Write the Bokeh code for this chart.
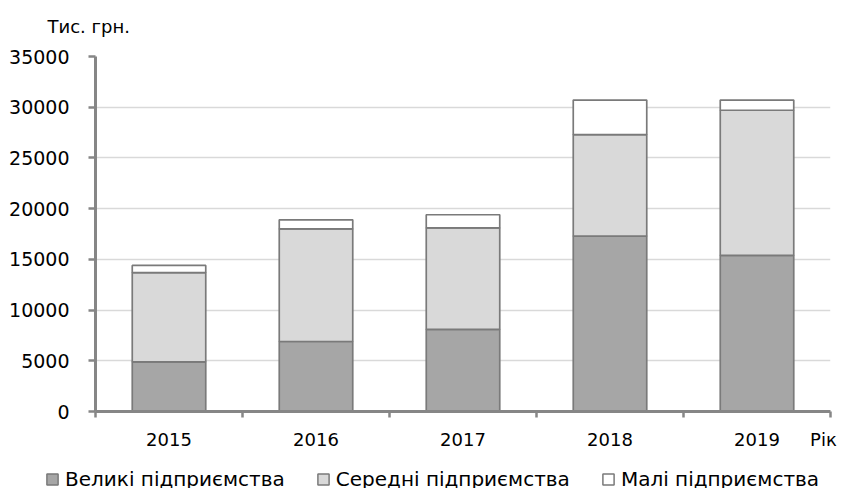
from bokeh.plotting import figure
from bokeh.layouts import column, row
from bokeh.models import ColumnDataSource, FixedTicker, Label, Legend, LegendItem, Range1d
from bokeh.embed import file_html
from bokeh.resources import INLINE

years = ["2015", "2016", "2017", "2018", "2019"]
large = [4900, 6900, 8100, 17300, 15400]
medium = [8800, 11100, 10000, 10000, 14300]
small = [700, 900, 1300, 3400, 1000]
series_keys = ["large", "medium", "small"]
series_names = ["Великі підприємства", "Середні підприємства", "Малі підприємства"]
series_colors = ["#a6a6a6", "#d9d9d9", "#ffffff"]
y_ticks = [0, 5000, 10000, 15000, 20000, 25000, 30000, 35000]
y_unit = "Тис. грн."
x_unit = "Рік"

FONT = "DejaVu Sans"
TXT = "#000000"
AX = "#868686"
EDGE = "#7a7a7a"
W = 845

xs = list(range(1, len(years) + 1))
unit_pos = len(years) + 0.452
source = ColumnDataSource(dict(x=xs, large=large, medium=medium, small=small))

# header strip with the unit text
ph = figure(width=W, height=40, output_backend="svg", toolbar_location=None, title=None,
            x_range=Range1d(0, W), y_range=Range1d(40, 0),
            min_border_left=0, min_border_right=0, min_border_top=0, min_border_bottom=0)
ph.axis.visible = False
ph.grid.visible = False
ph.outline_line_color = None
ph.add_layout(Label(x=47, y=26, text=y_unit, text_font=FONT, text_font_size="18px",
                    text_color=TXT, text_align="left", text_baseline="alphabetic"))

# main chart
p = figure(width=W, height=422, output_backend="svg", toolbar_location=None, title=None,
           x_range=Range1d(0.5, len(years) + 0.5), y_range=Range1d(0, 35000),
           min_border_left=95, min_border_right=15, min_border_top=16, min_border_bottom=51)
p.outline_line_color = None
p.background_fill_color = "white"

p.vbar_stack(series_keys, x="x", width=0.5, source=source,
             fill_color=series_colors, line_color=EDGE, line_width=1.7)

xa = p.xaxis[0]
xa.ticker = FixedTicker(ticks=xs + [unit_pos], minor_ticks=[i + 0.5 for i in range(len(years) + 1)])
overrides = {x: y for x, y in zip(xs, years)}
overrides[unit_pos] = x_unit
xa.major_label_overrides = overrides
xa.major_tick_out = 0
xa.major_tick_in = 0
xa.minor_tick_out = 6
xa.minor_tick_in = 0
xa.minor_tick_line_color = AX
xa.minor_tick_line_width = 2.5
xa.axis_line_color = AX
xa.axis_line_width = 3
xa.major_label_text_font = FONT
xa.major_label_text_font_size = "18px"
xa.major_label_text_color = TXT
xa.major_label_standoff = 11

ya = p.yaxis[0]
ya.ticker = FixedTicker(ticks=y_ticks)
ya.major_tick_out = 7
ya.major_tick_in = 0
ya.minor_tick_out = 0
ya.minor_tick_in = 0
ya.major_tick_line_color = AX
ya.major_tick_line_width = 2.5
ya.axis_line_color = AX
ya.axis_line_width = 3
ya.major_label_text_font = FONT
ya.major_label_text_font_size = "19px"
ya.major_label_text_color = TXT
ya.major_label_standoff = 19

p.xgrid.grid_line_color = None
p.ygrid.grid_line_color = "#d9d9d9"
p.ygrid.grid_line_width = 1.5

# legend strip; swatch renderers share the data styles but are not drawn themselves
pl = figure(width=W, height=26, output_backend="svg", toolbar_location=None, title=None,
            x_range=Range1d(0.5, len(years) + 0.5), y_range=Range1d(-20000, -10000),
            min_border_left=0, min_border_right=0, min_border_top=0, min_border_bottom=0)
pl.axis.visible = False
pl.grid.visible = False
pl.outline_line_color = None
leg_renderers = [pl.vbar(x="x", top=k, width=0.5, source=source, fill_color=c,
                         line_color=EDGE, line_width=1.5, visible=False)
                 for k, c in zip(series_keys, series_colors)]
legend = Legend(items=[LegendItem(label=n, renderers=[r]) for n, r in zip(series_names, leg_renderers)],
                orientation="horizontal", location=(45, -3),
                glyph_width=14, glyph_height=14, label_standoff=6, spacing=31,
                padding=0, margin=0, border_line_alpha=0, background_fill_alpha=0,
                inactive_fill_alpha=0,
                label_text_font=FONT, label_text_font_size="20px", label_text_color=TXT)
pl.add_layout(legend)

layout = column(row(ph), p, row(pl), spacing=0)
open("out.html", "w").write(file_html(layout, INLINE))
